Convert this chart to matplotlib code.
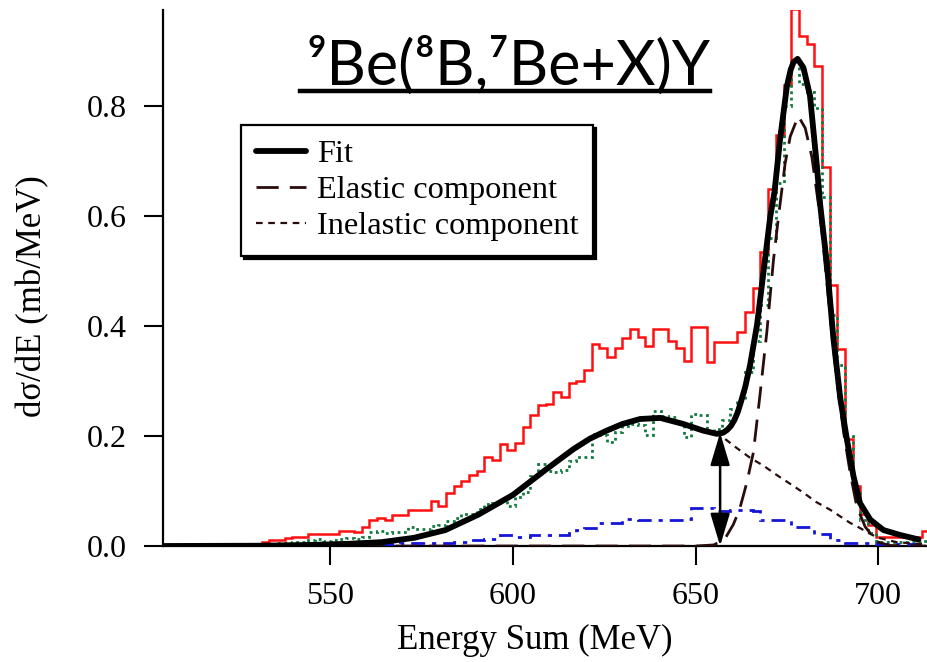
import matplotlib
matplotlib.use("Agg")
import matplotlib.pyplot as plt
from matplotlib.lines import Line2D
import numpy as np

# histogram binning (MeV)
bin_start = 529.15
bin_width = 2.1
n_bins = 88

# red histogram (total data)
red = [0.004, 0.008, 0.011, 0.011, 0.015, 0.017, 0.017, 0.021, 0.021, 0.021,
       0.022, 0.028, 0.028, 0.026, 0.034, 0.048, 0.051, 0.048, 0.057, 0.057,
       0.065, 0.065, 0.066, 0.081, 0.072, 0.096, 0.109, 0.119, 0.130, 0.136,
       0.161, 0.157, 0.185, 0.174, 0.188, 0.216, 0.239, 0.256, 0.259, 0.280,
       0.271, 0.297, 0.300, 0.320, 0.367, 0.361, 0.343, 0.360, 0.379, 0.395,
       0.381, 0.363, 0.394, 0.394, 0.372, 0.360, 0.336, 0.398, 0.398, 0.334,
       0.371, 0.371, 0.371, 0.390, 0.425, 0.470, 0.534, 0.650, 0.748, 0.838,
       0.976, 0.927, 0.913, 0.873, 0.689, 0.474, 0.358, 0.194, 0.109, 0.059,
       0.039, 0.017, 0.017, 0.017, 0.016, 0.016, 0.016, 0.028]

# green dotted histogram
green = [0.002, 0.002, 0.003, 0.005, 0.005, 0.008, 0.008, 0.011, 0.012, 0.010,
         0.011, 0.013, 0.015, 0.012, 0.016, 0.026, 0.027, 0.024, 0.025, 0.025,
         0.034, 0.031, 0.031, 0.036, 0.038, 0.045, 0.051, 0.059, 0.059, 0.067,
         0.077, 0.079, 0.084, 0.072, 0.090, 0.098, 0.127, 0.150, 0.136, 0.134,
         0.139, 0.155, 0.161, 0.162, 0.204, 0.202, 0.190, 0.207, 0.219, 0.222,
         0.220, 0.202, 0.246, 0.237, 0.235, 0.226, 0.198, 0.240, 0.238, 0.207,
         0.213, 0.229, 0.250, 0.268, 0.317, 0.372, 0.439, 0.560, 0.660, 0.800,
         0.880, 0.840, 0.825, 0.797, 0.635, 0.420, 0.330, 0.200, 0.103, 0.048,
         0.024, 0.008, 0.008, 0.008, 0.008, 0.008, 0.008, 0.010]

# blue dash-dot histogram
blue = [0.0, 0.0, 0.0, 0.0, 0.0, 0.0, 0.0, 0.0, 0.0, 0.0,
        0.0, 0.0, 0.0, 0.0, 0.001, 0.002, 0.004, 0.004, 0.004, 0.006,
        0.006, 0.006, 0.006, 0.006, 0.006, 0.006, 0.008, 0.008, 0.011, 0.011,
        0.013, 0.013, 0.020, 0.020, 0.017, 0.017, 0.020, 0.020, 0.020, 0.020,
        0.020, 0.024, 0.029, 0.032, 0.032, 0.042, 0.042, 0.042, 0.049, 0.049,
        0.048, 0.048, 0.048, 0.048, 0.048, 0.048, 0.050, 0.069, 0.069, 0.069,
        0.063, 0.063, 0.065, 0.065, 0.065, 0.064, 0.048, 0.048, 0.048, 0.048,
        0.035, 0.035, 0.035, 0.022, 0.022, 0.011, 0.011, 0.006, 0.006, 0.006,
        0.006, 0.003, 0.003, 0.003, 0.003, 0.003, 0.003, 0.003]

# fit curve
fit_e = [504, 530, 545, 555, 564, 573, 581.5, 590.5, 600, 609, 616.5, 621,
         625.7, 630, 634.8, 640.3, 646.6, 652, 655.8, 657.5, 658.6, 659.6,
         660.6, 661.5, 662.3, 663.6, 664.9, 666.8, 668.6, 670.4, 671.6, 673.1,
         675.0, 676.0, 676.8, 677.9, 679.5, 681.3, 683.2, 684.1, 685.9, 687.7,
         689.6, 691.4, 693.2, 695.0, 697.8, 701.4, 706.0, 711.0]
fit_y = [0.0, 0.0005, 0.002, 0.004, 0.007, 0.015, 0.029, 0.057, 0.093, 0.139,
         0.176, 0.195, 0.210, 0.222, 0.231, 0.233, 0.222, 0.210, 0.204, 0.206,
         0.211, 0.218, 0.229, 0.243, 0.260, 0.290, 0.329, 0.402, 0.500, 0.598,
         0.645, 0.739, 0.837, 0.866, 0.880, 0.886, 0.870, 0.819, 0.690, 0.620,
         0.515, 0.378, 0.268, 0.194, 0.127, 0.078, 0.048, 0.029, 0.020, 0.012]

# elastic component
el_e = [504, 650, 655, 658, 660.3, 662, 664, 665.8, 667.7, 669.5, 671.3, 672.7,
        674.5, 675.9, 678.1, 680, 681.8, 683.6, 684.5, 686.8, 688.7, 690.5,
        692.3, 694.1, 696.4, 699.6, 703, 713]
el_y = [0.0, 0.0, 0.002, 0.013, 0.039, 0.066, 0.115, 0.170, 0.280, 0.390, 0.520,
        0.600, 0.696, 0.745, 0.782, 0.760, 0.708, 0.622, 0.575, 0.420, 0.299,
        0.207, 0.133, 0.072, 0.035, 0.008, 0.001, 0.0]

# inelastic component
inel_e = [504, 530, 545, 555, 564, 573, 581.5, 590.5, 600, 609, 616.5, 625.7,
          634.8, 640.3, 646.6, 652, 655.8, 658, 661.3, 665, 668.6, 672, 675.9,
          679.5, 683, 686.8, 690, 692.3, 694.1, 697.8, 700, 705, 713]
inel_y = [0.0, 0.0005, 0.002, 0.004, 0.007, 0.015, 0.029, 0.057, 0.093, 0.139,
          0.176, 0.210, 0.231, 0.233, 0.222, 0.210, 0.204, 0.195, 0.178, 0.160,
          0.146, 0.130, 0.113, 0.097, 0.080, 0.066, 0.052, 0.042, 0.036, 0.022,
          0.015, 0.007, 0.003]

arrow_e = 656.7
arrow_top = 0.206

serif = ["Liberation Serif", "DejaVu Serif"]
plt.rcParams["font.family"] = serif

fig = plt.figure(figsize=(9.28, 6.62), dpi=100)
ax = fig.add_axes([0.1756, 0.1752, 1 - 0.1756, 0.985 - 0.1752])

edges = bin_start + bin_width * np.arange(n_bins + 1)
ax.stairs(red, edges, color="#ff1010", lw=1.8, baseline=None, zorder=2)
ax.stairs(green, edges, color="#127a40", lw=2.0, ls=(0, (1, 1.3)), baseline=None, zorder=3)
ax.stairs(blue, edges, color="#1515d8", lw=2.0, ls=(0, (5, 2.5, 1.5, 2.5)), baseline=None, zorder=3)

ax.plot(inel_e, inel_y, color="#2a0c0c", lw=1.6, ls=(0, (3, 2.5)), zorder=4, label="Inelastic component")
ax.plot(el_e, el_y, color="#2a0c0c", lw=2.0, ls=(0, (8, 4)), zorder=4, label="Elastic component")
ax.plot(fit_e, fit_y, color="black", lw=4.2, solid_capstyle="round",
        solid_joinstyle="round", zorder=5, label="Fit")

ax.annotate("", xy=(arrow_e, 0.0), xytext=(arrow_e, arrow_top),
            arrowprops=dict(arrowstyle="<|-|>,head_length=1.0,head_width=0.3",
                            mutation_scale=20, color="black", lw=1.8,
                            shrinkA=0, shrinkB=0), zorder=6)

ax.set_xlim(504.2, 713.6)
ax.set_ylim(0, 0.975)
ax.set_xticks([550, 600, 650, 700])
ax.set_yticks([0.0, 0.2, 0.4, 0.6, 0.8])
ax.set_yticklabels(["0.0", "0.2", "0.4", "0.6", "0.8"])
for s in ["top", "right"]:
    ax.spines[s].set_visible(False)
for s in ["left", "bottom"]:
    ax.spines[s].set_linewidth(1.6)
ax.tick_params(direction="out", length=14, width=1.5, labelsize=23, pad=12)

ax.set_xlabel("Energy Sum (MeV)", fontsize=25)
ax.set_ylabel("d\u03c3/dE (mb/MeV)", fontsize=25)
ax.xaxis.set_label_coords(0.486, -0.145)
ax.yaxis.set_label_coords(-0.148, 0.466)

handles, labels = ax.get_legend_handles_labels()
order = [2, 1, 0]
leg = ax.legend([handles[i] for i in order], [labels[i] for i in order],
                loc="upper left", bbox_to_anchor=(241 / 928, 1 - 125 / 662),
                bbox_transform=fig.transFigure, borderaxespad=0,
                fontsize=23.3, handlelength=1.55, handletextpad=0.35,
                labelspacing=0.2, borderpad=0.45, fancybox=False,
                framealpha=1, edgecolor="black",
                shadow={"color": "black", "alpha": 1})
leg.get_frame().set_linewidth(1.6)

# title with underline
fig.text(0.5481, 1 - 85 / 662, "\u2079Be(\u2078B,\u2077Be+X)Y", ha="center", va="baseline",
         fontsize=44, family=["Lato", "DejaVu Sans"])
fig.add_artist(Line2D([300 / 928, 710 / 928], [1 - 91 / 662, 1 - 91 / 662],
                      color="black", lw=3.2))

fig.savefig("out.png", dpi=100)
